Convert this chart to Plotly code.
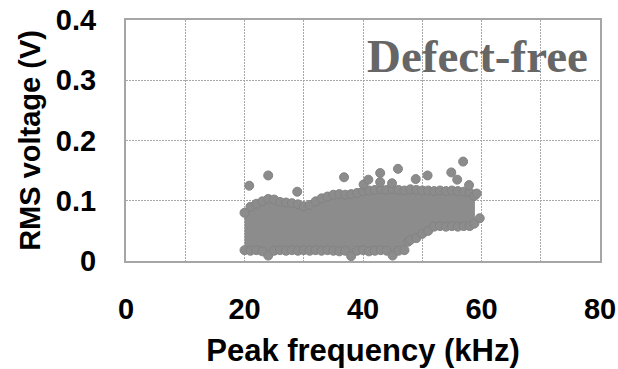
import plotly.graph_objects as go

# Upper envelope of the dense point cloud (kHz, V)
freq_upper = [20, 21, 22, 23, 24, 25, 26, 27, 28, 29, 30, 31, 32, 33, 34, 35, 36, 37, 38, 39,
              40, 41, 42, 43, 44, 45, 46, 47, 48, 49, 50, 51, 52, 53, 54, 55, 56, 57, 58, 58.8]
volt_upper = [0.080, 0.090, 0.095, 0.099, 0.103, 0.102, 0.098, 0.097, 0.096, 0.094, 0.091, 0.093,
              0.099, 0.104, 0.107, 0.110, 0.111, 0.110, 0.111, 0.113, 0.116, 0.117, 0.118, 0.119,
              0.118, 0.119, 0.118, 0.117, 0.119, 0.118, 0.117, 0.117, 0.116, 0.117, 0.116, 0.117,
              0.116, 0.115, 0.114, 0.108]

# Lower envelope of the dense point cloud (kHz, V)
freq_lower = [20, 21, 22, 23, 24, 25, 26, 27, 28, 29, 30, 31, 32, 33, 34, 35, 36, 37, 38, 39,
              40, 41, 42, 43, 44, 45, 46, 47, 47.6, 48, 49, 50, 51, 52, 53, 54, 55, 56, 57, 58, 58.8]
volt_lower = [0.018, 0.017, 0.018, 0.016, 0.009, 0.017, 0.018, 0.017, 0.018, 0.017, 0.018, 0.017,
              0.018, 0.017, 0.018, 0.017, 0.016, 0.017, 0.008, 0.017, 0.018, 0.016, 0.017, 0.018,
              0.017, 0.009, 0.017, 0.018, 0.032, 0.035, 0.038, 0.045, 0.050, 0.057, 0.058, 0.057,
              0.058, 0.057, 0.058, 0.058, 0.062]

# Isolated points above / beside the cloud
outlier_freq = [20.8, 24.0, 28.9, 36.8, 40.1, 40.9, 42.9, 42.9, 44.9, 45.9, 48.9, 50.9, 54.9,
                55.9, 56.9, 57.9, 59.2, 59.7]
outlier_volt = [0.125, 0.142, 0.115, 0.139, 0.127, 0.135, 0.146, 0.131, 0.129, 0.153, 0.136,
                0.142, 0.147, 0.135, 0.165, 0.126, 0.112, 0.071]

x_ticks = [0, 20, 40, 60, 80]
y_ticks = [0, 0.1, 0.2, 0.3, 0.4]

PT = "#8c8c8c"
EDGE = "#848484"
GRID = "#a8a8a8"
FRAME = "#a6a6a6"
TICKFONT = dict(family="Liberation Sans", size=29, color="black", weight="bold")
XTITLEFONT = dict(family="Liberation Sans", size=31, color="black", weight="bold")
YTITLEFONT = dict(family="Liberation Sans", size=29, color="black", weight="bold")

fig = go.Figure()

# dense cloud body
fig.add_trace(go.Scatter(
    x=freq_upper + freq_lower[::-1],
    y=volt_upper + volt_lower[::-1],
    mode="lines", fill="toself", fillcolor=PT,
    line=dict(color=PT, width=1), hoverinfo="skip", showlegend=False))

# edge points of the cloud
fig.add_trace(go.Scatter(
    x=freq_upper + freq_lower, y=volt_upper + volt_lower, mode="markers",
    marker=dict(size=9, color=PT, line=dict(color=EDGE, width=1)), showlegend=False))

fig.add_trace(go.Scatter(
    x=outlier_freq, y=outlier_volt, mode="markers",
    marker=dict(size=9, color=PT, line=dict(color=EDGE, width=1)), showlegend=False))

fig.add_annotation(x=59.4, y=0.341, xref="x", yref="y", text="<b>Defect-free</b>",
                   showarrow=False, xanchor="center", yanchor="middle",
                   font=dict(family="Liberation Serif", size=47, color="#666666"))

fig.update_layout(
    width=618, height=369,
    margin=dict(l=126, r=18, t=20, b=108),
    plot_bgcolor="white", paper_bgcolor="white",
    showlegend=False,
)
fig.update_xaxes(
    range=[0, 80], tickvals=x_ticks, ticktext=[str(v) for v in x_ticks],
    showgrid=True, gridcolor=GRID, griddash="2px,1px", gridwidth=1,
    minor=dict(dtick=10, showgrid=True, gridcolor=GRID, griddash="2px,1px", gridwidth=1),
    showline=True, linecolor=FRAME, linewidth=2, mirror=True,
    ticks="", tickfont=TICKFONT, ticklabelstandoff=21, automargin=False,
    title=dict(text="Peak frequency (kHz)", font=XTITLEFONT, standoff=16),
    zeroline=False,
)
fig.update_yaxes(
    range=[0, 0.4], tickvals=y_ticks, ticktext=["0", "0.1", "0.2", "0.3", "0.4"],
    showgrid=True, gridcolor=GRID, griddash="2px,1px", gridwidth=1,
    showline=True, linecolor=FRAME, linewidth=2, mirror=True,
    ticks="", tickfont=TICKFONT, ticklabelstandoff=22, automargin=False,
    title=dict(text="RMS voltage (V)", font=YTITLEFONT, standoff=7),
    zeroline=False,
)

fig.write_html("out.html")
